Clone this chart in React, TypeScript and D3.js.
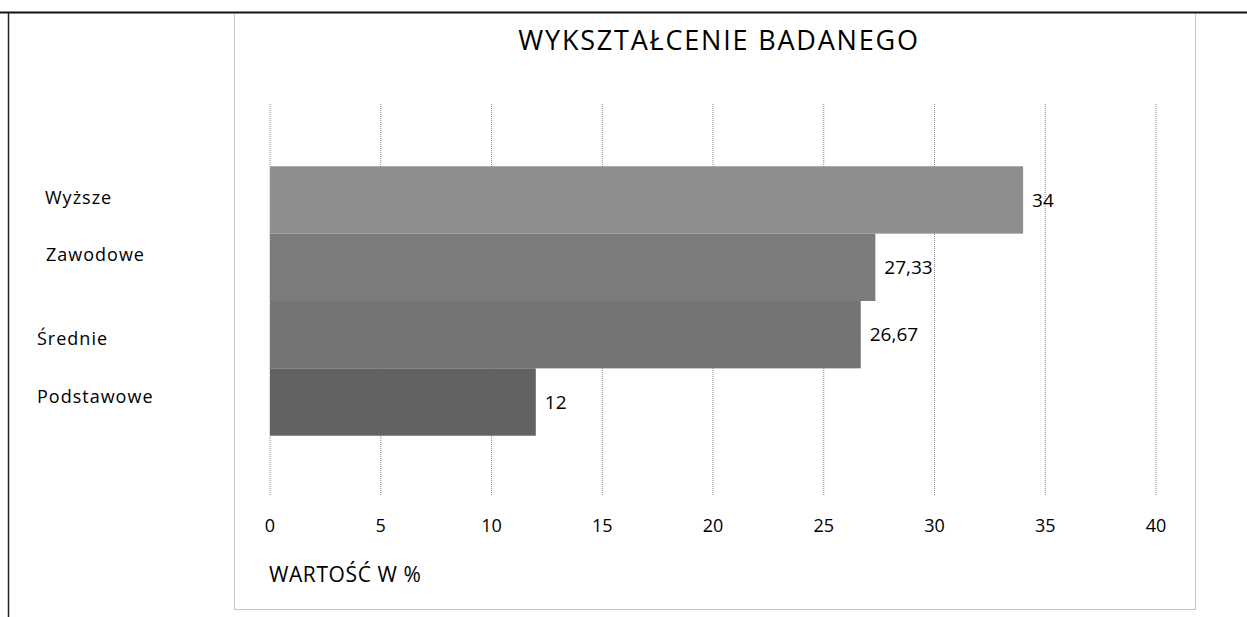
import React from 'react';
import * as d3 from 'd3';

const categories = ['Wyższe', 'Zawodowe', 'Średnie', 'Podstawowe'];
const values = [34, 27.33, 26.67, 12];
const valueLabels = ['34', '27,33', '26,67', '12'];
const xTicks = [0, 5, 10, 15, 20, 25, 30, 35, 40];
const barColors = ['#8e8e8e', '#7c7c7c', '#747474', '#626262'];

// category labels in the scan sit a bit off the bar centres
const labelShift = [
  { dx: 8, dy: -2 },
  { dx: 9, dy: -13 },
  { dx: 0, dy: 4 },
  { dx: 0, dy: -5 },
];

const W = 1247;
const H = 617;
const FONT = '"Open Sans", Lato, sans-serif';

const App = () => {
  const x = d3.scaleLinear().domain([0, 40]).range([270, 1156]);
  const y = d3.scaleBand<string>()
    .domain(categories)
    .range([107, 495])
    .paddingInner(0)
    .paddingOuter(0.88);

  return (
    <svg width={W} height={H} style={{ position: 'absolute', left: 0, top: 0, background: '#fff' }}>
      {/* page lines from the scan */}
      <line x1={0} x2={W} y1={12.5} y2={12.5} stroke="#111" strokeWidth={2} />
      <line x1={8.5} x2={8.5} y1={12} y2={H} stroke="#222" strokeWidth={1.5} />

      {/* chart frame */}
      <rect x={234.5} y={13.5} width={961} height={596} fill="none"
        stroke="#888" strokeWidth={1} strokeDasharray="1,1" />

      {/* gridlines */}
      {xTicks.map(t => (
        <line key={t} x1={x(t)} x2={x(t)} y1={104} y2={495}
          stroke="#8a8a8a" strokeWidth={1} strokeDasharray="1,1" />
      ))}

      {/* bars */}
      {categories.map((c, i) => (
        <rect key={c}
          x={x(0)}
          y={y(c)}
          width={x(values[i]) - x(0)}
          height={y.bandwidth()}
          fill={barColors[i]} />
      ))}

      {/* value labels */}
      {categories.map((c, i) => (
        <text key={c}
          x={x(values[i]) + 9}
          y={(y(c) ?? 0) + y.bandwidth() / 2}
          dy="0.35em"
          fontFamily={FONT}
          fontSize={19}
          fontWeight={500}
          fill="#000">
          {valueLabels[i]}
        </text>
      ))}

      {/* category labels */}
      {categories.map((c, i) => (
        <text key={c}
          x={37 + labelShift[i].dx}
          y={(y(c) ?? 0) + y.bandwidth() / 2 + labelShift[i].dy}
          dy="0.35em"
          fontFamily={FONT}
          fontSize={18}
          fontWeight={500}
          letterSpacing={1}
          fill="#000">
          {c}
        </text>
      ))}

      {/* x tick labels */}
      {xTicks.map(t => (
        <text key={t}
          x={x(t)}
          y={526}
          dy="0.35em"
          textAnchor="middle"
          fontFamily={FONT}
          fontSize={18}
          fontWeight={500}
          fill="#000">
          {t}
        </text>
      ))}

      <text x={269} y={575} dy="0.35em" fontFamily={FONT} fontSize={21} fontWeight={500}
        letterSpacing={0.6} fill="#000">
        WARTOŚĆ W %
      </text>

      <text x={719} y={41} dy="0.35em" textAnchor="middle"
        fontFamily={FONT} fontSize={27} fontWeight={500} letterSpacing={1.8} fill="#000">
        WYKSZTAŁCENIE BADANEGO
      </text>
    </svg>
  );
};

export default App;
